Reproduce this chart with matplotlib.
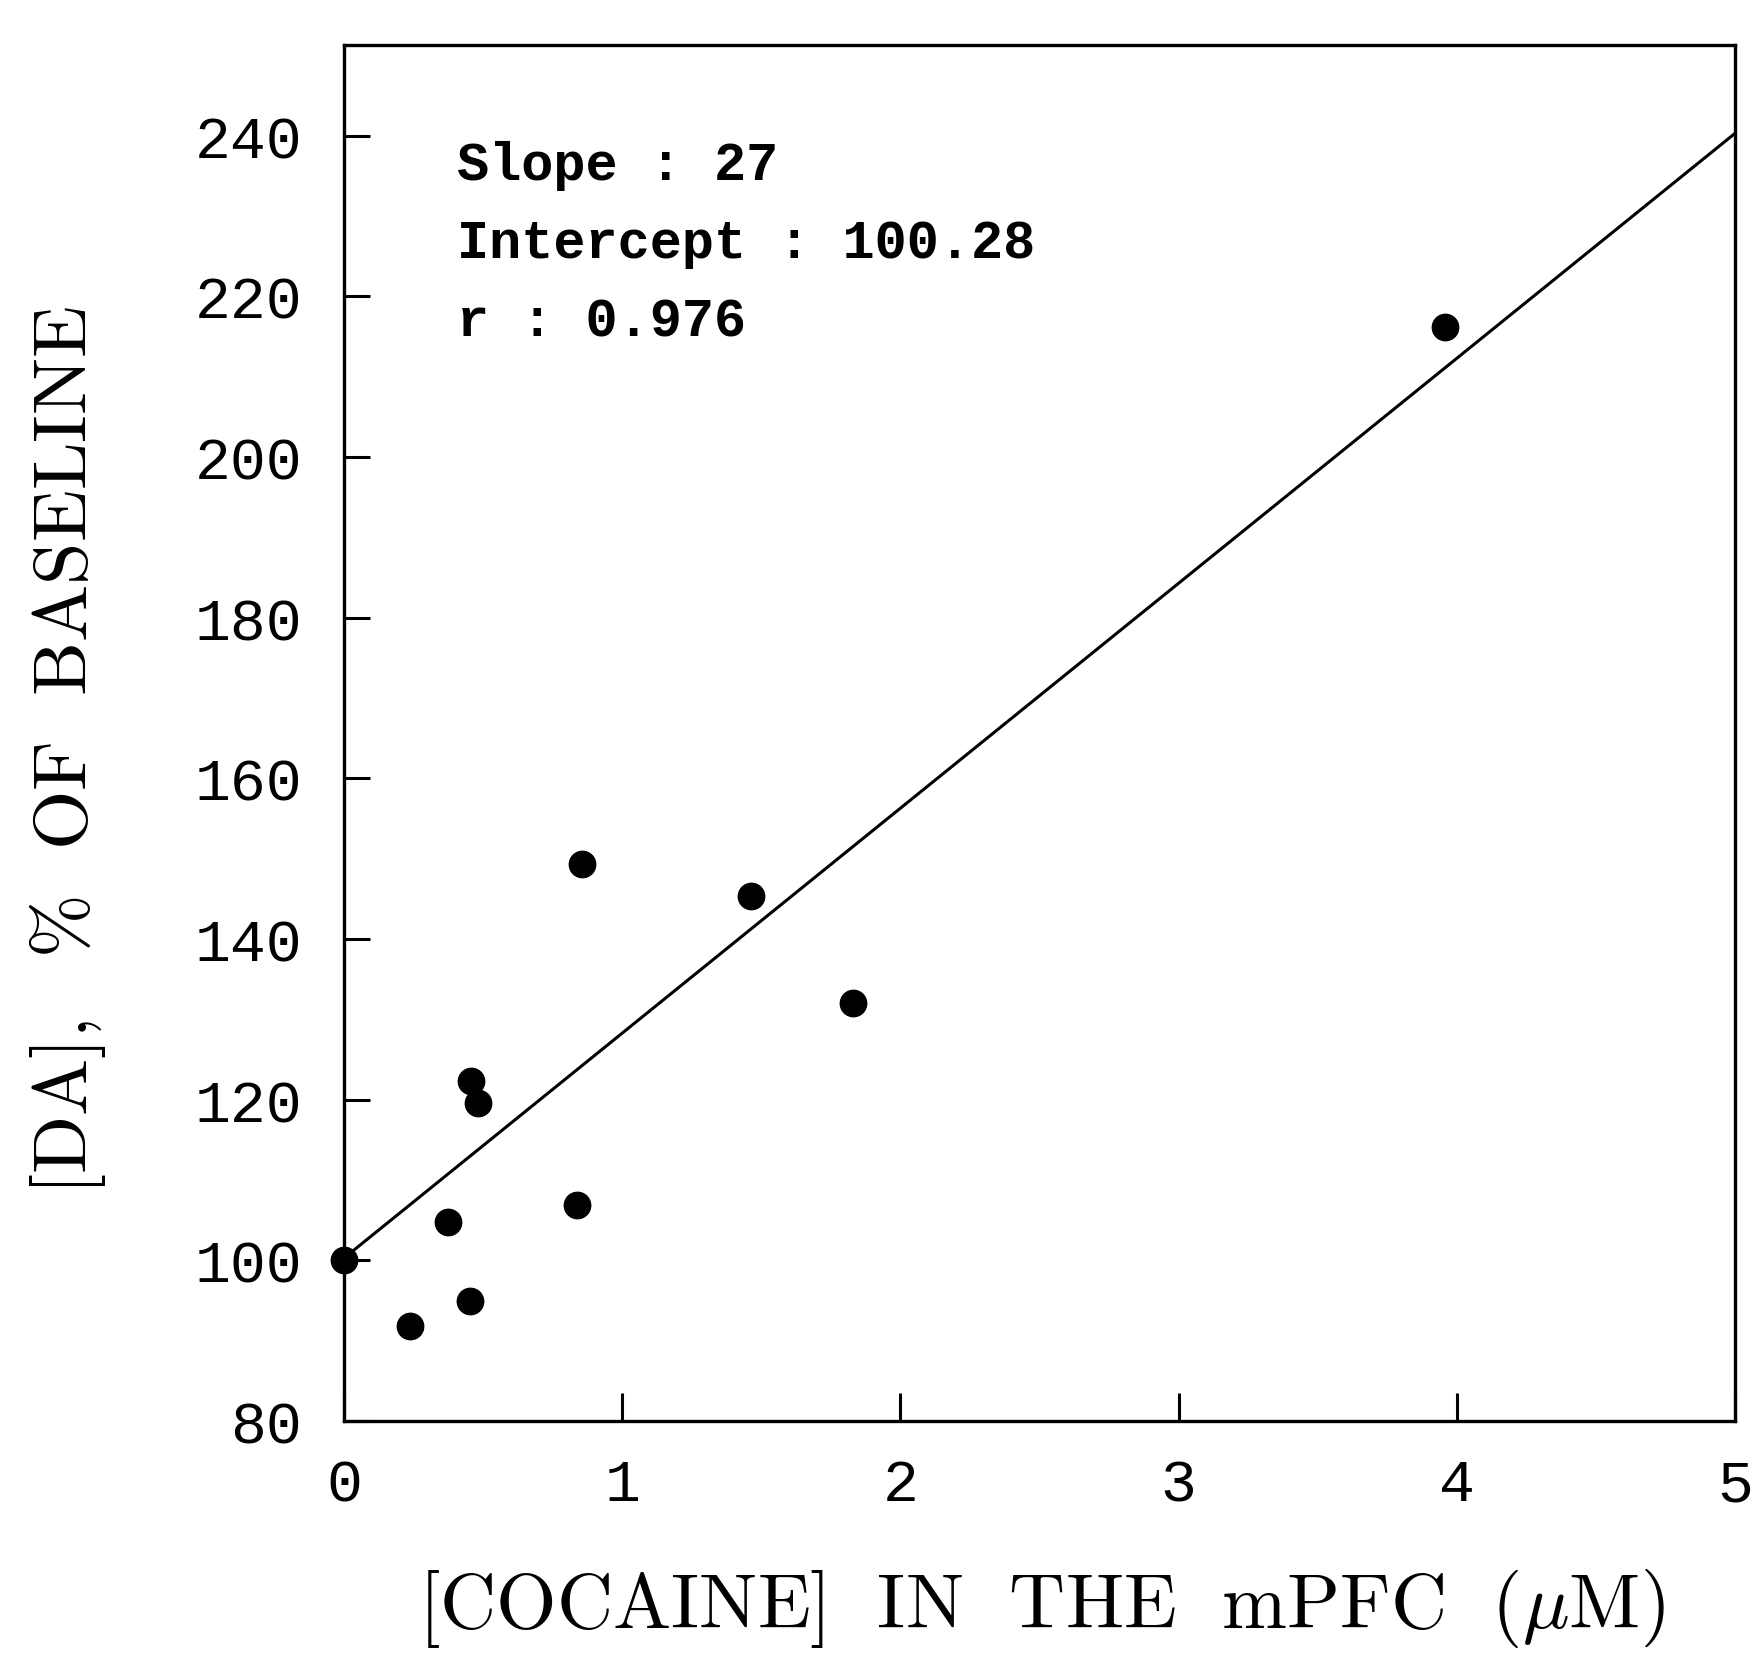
import numpy as np
import matplotlib
matplotlib.use("Agg")
import matplotlib.pyplot as plt

plt.rcParams['mathtext.fontset'] = 'cm'

cocaine = [0.0, 0.236, 0.373, 0.452, 0.457, 0.481, 0.838, 0.854, 1.464, 1.830, 3.958]
da_pct = [100.0, 91.8, 104.8, 95.0, 122.3, 119.6, 106.9, 149.3, 145.4, 132.0, 216.2]

# regression line as drawn
fit_x = [0.0, 5.0]
fit_y = [100.28, 240.3]

x_ticks = [0, 1, 2, 3, 4, 5]
y_ticks = [80, 100, 120, 140, 160, 180, 200, 220, 240]
stats_lines = ["Slope : 27", "Intercept : 100.28", "r : 0.976"]

fig = plt.figure(figsize=(17.56, 16.56), dpi=100)
ax = fig.add_axes([344/1756, 1-1422/1656, (1735-344)/1756, (1422-46)/1656])

ax.plot(fit_x, fit_y, color='k', lw=2.2, solid_capstyle='butt')
ax.plot(cocaine, da_pct, 'o', color='k', ms=19, clip_on=False)

ax.set_xlim(0, 5)
ax.set_ylim(80, 251.3)
ax.set_xticks(x_ticks)
ax.set_yticks(y_ticks)

tick_font = dict(family='Liberation Mono', size=43)
ax.set_xticklabels([str(t) for t in x_ticks], **tick_font)
ax.set_yticklabels([str(t) for t in y_ticks], **tick_font)
ax.tick_params(direction='in', length=20, width=2.2, pad=26, color='k')
ax.tick_params(axis='y', length=19, pad=30)
for sp in ax.spines.values():
    sp.set_linewidth(2.4)

# fit statistics box
for i, s in enumerate(stats_lines):
    ax.text(0.081, 0.913 - i * 0.0569, s, transform=ax.transAxes,
            family='Liberation Mono', weight='bold', size=38.5,
            ha='left', va='center')

fig.text(1041/1756, 1-1628/1656, r'$\mathrm{[COCAINE]\ \ IN\ \ THE\ \ mPFC\ \ (}\mu\mathrm{M)}$',
         size=56, ha='center', va='baseline')
fig.text(68/1756, 1-750/1656, r'$\mathrm{[DA],\ \ \%\ \ OF\ \ BASELINE}$',
         size=55, ha='center', va='center', rotation=90)

fig.savefig('out.png', dpi=100)
